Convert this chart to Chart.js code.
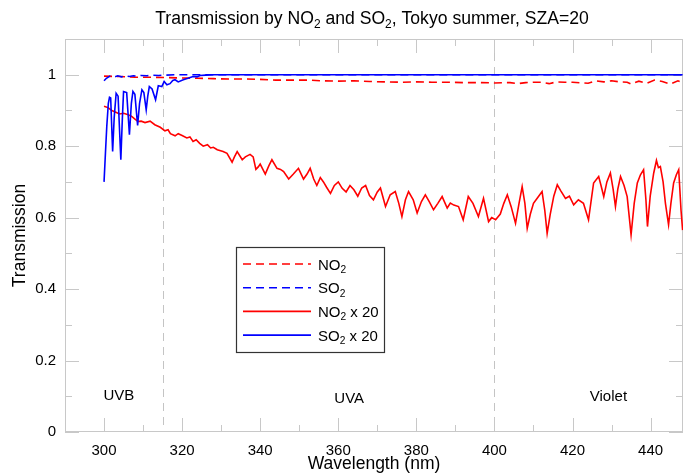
<!DOCTYPE html>
<html>
<head>
<meta charset="utf-8">
<title>Transmission by NO2 and SO2</title>
<script src="https://cdn.jsdelivr.net/npm/chart.js@4.4.0/dist/chart.umd.min.js"></script>
<style>
  html, body { margin: 0; padding: 0; background: #fff; }
  #wrap { width: 684px; height: 475px; }
</style>
</head>
<body>
<div id="wrap"><canvas id="chart" width="684" height="475"></canvas></div>
<script>
// Transmission vs wavelength

// NO2 x 20 (solid red)
const no2x20Wl = [300.0, 301.0, 302.0, 303.0, 304.0, 305.0, 306.0, 307.0, 308.0, 308.7, 309.5, 310.5, 311.8, 313.0, 314.4, 315.6, 316.4, 317.0, 318.2, 319.0,
  320.0, 321.2, 322.0, 322.8, 323.6, 324.5, 325.4, 326.5, 327.3, 328.0, 329.0, 330.5, 331.5, 332.8, 333.4, 334.1, 335.4, 336.2, 337.4, 338.2,
  338.9, 339.5, 340.0, 341.3, 342.2, 343.0, 344.3, 345.2, 346.0, 347.3, 348.5, 349.8, 351.1, 352.0, 352.8, 353.7, 354.5, 355.4, 356.2, 357.0,
  358.0, 359.0, 360.0, 361.0, 362.0, 363.0, 364.0, 365.0, 366.0, 367.0, 368.0, 369.0, 370.0, 370.8, 372.1, 373.3, 374.6, 375.5, 376.3, 377.2,
  378.0, 379.2, 380.2, 381.3, 382.3, 383.3, 384.4, 385.5, 386.6, 387.9, 388.7, 389.6, 390.8, 392.0, 393.3, 394.5, 395.9, 397.2, 398.5, 399.3,
  400.3, 401.5, 402.4, 403.3, 404.3, 405.4, 406.3, 407.1, 407.8, 408.4, 409.2, 410.0, 411.0, 412.2, 412.9, 413.5, 414.3, 415.2, 416.1, 417.0,
  418.2, 419.2, 420.3, 421.5, 422.8, 424.1, 424.8, 425.4, 426.7, 427.3, 428.0, 428.8, 429.7, 430.4, 431.0, 431.6, 432.3, 433.2, 434.0, 435.0,
  435.8, 436.6, 437.4, 438.2, 438.8, 439.2, 439.9, 440.8, 441.5, 442.0, 442.5, 443.2, 443.8, 444.6, 445.2, 445.9, 446.6, 447.2, 447.8, 448.2];
const no2x20 = [0.912, 0.908, 0.900, 0.895, 0.890, 0.892, 0.889, 0.884, 0.875, 0.869, 0.870, 0.866, 0.870, 0.860, 0.853, 0.843, 0.846, 0.835, 0.829, 0.835,
  0.830, 0.823, 0.826, 0.813, 0.818, 0.808, 0.800, 0.804, 0.795, 0.797, 0.790, 0.785, 0.780, 0.755, 0.770, 0.785, 0.762, 0.770, 0.777, 0.770,
  0.735, 0.742, 0.750, 0.722, 0.745, 0.762, 0.738, 0.735, 0.729, 0.708, 0.722, 0.738, 0.708, 0.722, 0.738, 0.708, 0.690, 0.712, 0.700, 0.685,
  0.668, 0.690, 0.700, 0.682, 0.672, 0.690, 0.678, 0.660, 0.683, 0.690, 0.662, 0.650, 0.672, 0.683, 0.631, 0.664, 0.673, 0.640, 0.603, 0.650,
  0.673, 0.650, 0.613, 0.645, 0.664, 0.645, 0.622, 0.640, 0.659, 0.627, 0.641, 0.635, 0.631, 0.594, 0.659, 0.640, 0.603, 0.654, 0.589, 0.600,
  0.594, 0.610, 0.640, 0.664, 0.630, 0.584, 0.640, 0.687, 0.640, 0.570, 0.610, 0.640, 0.655, 0.673, 0.620, 0.556, 0.610, 0.660, 0.692, 0.675,
  0.654, 0.660, 0.636, 0.650, 0.640, 0.594, 0.650, 0.697, 0.715, 0.690, 0.659, 0.700, 0.725, 0.680, 0.631, 0.680, 0.715, 0.690, 0.659, 0.552,
  0.640, 0.697, 0.720, 0.734, 0.650, 0.575, 0.660, 0.725, 0.760, 0.740, 0.743, 0.700, 0.640, 0.580, 0.640, 0.697, 0.720, 0.734, 0.620, 0.565];

// SO2 x 20 (solid blue)
const so2x20Wl = [300.0, 300.4, 300.7, 301.1, 301.4, 301.7, 302.2, 302.6, 303.1, 303.6, 304.3, 304.7, 305.0, 305.8, 306.5, 307.0, 307.4, 307.9, 308.6, 309.1,
  309.7, 310.2, 310.8, 311.2, 311.6, 312.3, 313.2, 313.9, 314.8, 315.4, 316.1, 316.9, 317.6, 318.2, 319.0, 320.3, 321.5, 322.8, 323.8, 324.6,
  326.0, 328.0, 340.0, 360.0, 380.0, 400.0, 420.0, 440.0, 448.2];
const so2x20 = [0.700, 0.790, 0.855, 0.920, 0.937, 0.935, 0.785, 0.880, 0.948, 0.940, 0.762, 0.880, 0.953, 0.950, 0.832, 0.920, 0.953, 0.945, 0.858, 0.920,
  0.958, 0.950, 0.902, 0.940, 0.967, 0.960, 0.930, 0.969, 0.967, 0.981, 0.972, 0.975, 0.984, 0.986, 0.980, 0.986, 0.990, 0.995, 0.994, 0.998,
  0.999, 1.000, 1.000, 1.000, 1.000, 1.000, 1.000, 1.000, 1.000];

// NO2 (dashed red)
const no2Wl = [300, 304, 308, 312, 316, 320, 324, 328, 332, 336, 340, 344, 348, 352, 356, 360, 364, 368, 372, 376,
  380, 384, 388, 392, 396, 400, 404, 406, 408, 410, 412, 414, 416, 418, 420, 424, 426, 428, 430, 432,
  434, 435, 437, 439, 441, 443, 445, 447, 448.2];
const no2 = [0.996, 0.995, 0.993, 0.993, 0.992, 0.991, 0.990, 0.989, 0.988, 0.988, 0.987, 0.985, 0.985, 0.985, 0.983, 0.982, 0.983, 0.981, 0.980, 0.979,
  0.980, 0.979, 0.979, 0.978, 0.978, 0.977, 0.978, 0.975, 0.978, 0.979, 0.979, 0.975, 0.980, 0.979, 0.979, 0.976, 0.983, 0.980, 0.983, 0.980,
  0.979, 0.974, 0.982, 0.976, 0.985, 0.981, 0.974, 0.983, 0.978];

// SO2 (dashed blue)
const so2Wl = [300.0, 300.6, 301.5, 302.5, 303.5, 304.5, 305.5, 306.5, 307.5, 308.5, 309.5, 311.0, 312.0, 314.0, 316.0, 318.0, 340.0, 380.0, 420.0, 448.2];
const so2 = [0.983, 0.990, 0.996, 0.993, 0.997, 0.994, 0.997, 0.995, 0.997, 0.996, 0.998, 0.997, 0.999, 0.998, 0.999, 1.000, 1.000, 1.000, 1.000, 1.000];

// axes and annotations
const xTickLabels = [300, 320, 340, 360, 380, 400, 420, 440];
const yTickLabels = [0, 0.2, 0.4, 0.6, 0.8, 1];
const bandEdges = [315, 400];
const bandNames = ['UVB', 'UVA', 'Violet'];
const bandLabelX = [303.8, 362.8, 429.2];
const bandLabelY = [0.101, 0.092, 0.098];

const FONT = '"Liberation Sans", Arial, Helvetica, sans-serif';
const RED = '#ff0000';
const BLUE = '#0000ff';

const toPoints = (xs, ys) => xs.map((x, i) => ({ x: x, y: ys[i] }));

// text with subscript parts: [text, isSub]
function drawRich(ctx, parts, x, y, size, align) {
  const subSize = size * 0.68;
  let total = 0;
  parts.forEach(p => {
    ctx.font = (p[1] ? subSize : size) + 'px ' + FONT;
    total += ctx.measureText(p[0]).width;
  });
  let cx = align === 'center' ? x - total / 2 : x;
  ctx.textAlign = 'left';
  ctx.textBaseline = 'alphabetic';
  parts.forEach(p => {
    ctx.font = (p[1] ? subSize : size) + 'px ' + FONT;
    ctx.fillText(p[0], cx, p[1] ? y + size * 0.22 : y);
    cx += ctx.measureText(p[0]).width;
  });
}

const legendItems = [
  { parts: [['NO'], ['2', 1]], color: RED, dash: [8, 5] },
  { parts: [['SO'], ['2', 1]], color: BLUE, dash: [8, 5] },
  { parts: [['NO'], ['2', 1], [' x 20']], color: RED, dash: [] },
  { parts: [['SO'], ['2', 1], [' x 20']], color: BLUE, dash: [] },
];

const framePlugin = {
  id: 'frame',
  beforeDatasetsDraw(chart) {
    const { ctx, chartArea: a, scales: { x, y } } = chart;
    ctx.save();
    // band boundaries
    ctx.strokeStyle = '#c4c4c4';
    ctx.lineWidth = 1;
    ctx.setLineDash([8, 6]);
    bandEdges.forEach(w => {
      const px = Math.round(x.getPixelForValue(w)) + 0.5;
      ctx.beginPath();
      ctx.moveTo(px, a.top);
      ctx.lineTo(px, a.bottom);
      ctx.stroke();
    });
    ctx.setLineDash([]);
    // box
    ctx.strokeStyle = '#c8c8c8';
    ctx.strokeRect(a.left + 0.5, a.top + 0.5, a.right - a.left - 1, a.bottom - a.top - 1);
    // inward ticks
    x.ticks.forEach(t => {
      const px = Math.round(x.getPixelForValue(t.value)) + 0.5;
      if (px <= a.left + 1 || px >= a.right - 1) return;
      const len = t.value % 20 === 0 ? 14 : 7;
      ctx.beginPath();
      ctx.moveTo(px, a.bottom);
      ctx.lineTo(px, a.bottom - len);
      ctx.moveTo(px, a.top);
      ctx.lineTo(px, a.top + len);
      ctx.stroke();
    });
    y.ticks.forEach(t => {
      const py = Math.round(y.getPixelForValue(t.value)) + 0.5;
      if (py <= a.top + 1) return;
      const len = Math.round(t.value * 10) % 2 === 0 ? 14 : 7;
      ctx.beginPath();
      ctx.moveTo(a.left, py);
      ctx.lineTo(a.left + len, py);
      ctx.moveTo(a.right, py);
      ctx.lineTo(a.right - len, py);
      ctx.stroke();
    });
    ctx.restore();
  },
  afterDatasetsDraw(chart) {
    const { ctx, scales: { x, y } } = chart;
    ctx.save();
    ctx.fillStyle = '#000';
    // band names
    ctx.font = '15px ' + FONT;
    ctx.textAlign = 'center';
    ctx.textBaseline = 'middle';
    bandNames.forEach((n, i) => {
      ctx.fillText(n, x.getPixelForValue(bandLabelX[i]), y.getPixelForValue(bandLabelY[i]));
    });
    // legend
    const lx = 236.5, ly = 247.5, lw = 148, lh = 105;
    ctx.fillStyle = '#fff';
    ctx.fillRect(lx, ly, lw, lh);
    ctx.strokeStyle = '#333';
    ctx.lineWidth = 1.2;
    ctx.strokeRect(lx, ly, lw, lh);
    legendItems.forEach((it, i) => {
      const cy = 264 + i * 23.7;
      ctx.strokeStyle = it.color;
      ctx.lineWidth = 1.6;
      ctx.setLineDash(it.dash);
      ctx.beginPath();
      ctx.moveTo(243, cy);
      ctx.lineTo(311, cy);
      ctx.stroke();
      ctx.setLineDash([]);
      ctx.fillStyle = '#000';
      drawRich(ctx, it.parts, 318, cy + 5.5, 15, 'left');
    });
    // title
    ctx.fillStyle = '#000';
    drawRich(ctx, [['Transmission by NO'], ['2', 1], [' and SO'], ['2', 1], [', Tokyo summer, SZA=20']], 372, 24, 17.6, 'center');
    ctx.restore();
  }
};

const ctx = document.getElementById('chart').getContext('2d');
new Chart(ctx, {
  type: 'line',
  data: {
    datasets: [
      { label: 'NO2', data: toPoints(no2Wl, no2), borderColor: RED, borderDash: [8, 5], order: 4 },
      { label: 'SO2', data: toPoints(so2Wl, so2), borderColor: BLUE, borderDash: [8, 5], order: 3 },
      { label: 'NO2 x 20', data: toPoints(no2x20Wl, no2x20), borderColor: RED, order: 2 },
      { label: 'SO2 x 20', data: toPoints(so2x20Wl, so2x20), borderColor: BLUE, order: 1 },
    ],
  },
  options: {
    responsive: false,
    animation: false,
    devicePixelRatio: 1,
    layout: { padding: { top: 39, right: 1, left: 0, bottom: 0 } },
    elements: {
      point: { radius: 0 },
      line: { tension: 0, borderWidth: 1.6, fill: false },
    },
    plugins: {
      legend: { display: false },
      title: { display: false },
      tooltip: { enabled: false },
    },
    scales: {
      x: {
        type: 'linear',
        min: 290,
        max: 448.3,
        grid: { display: false, drawTicks: false },
        border: { display: false },
        ticks: {
          stepSize: 10,
          includeBounds: false,
          autoSkip: false,
          maxRotation: 0,
          padding: 10,
          color: '#000',
          font: { family: FONT, size: 15 },
          callback: v => (xTickLabels.includes(v) ? String(v) : ''),
        },
        title: {
          display: true,
          text: 'Wavelength (nm)',
          color: '#000',
          font: { family: FONT, size: 17.5 },
          padding: { top: 0, bottom: 0 },
        },
        afterFit: s => { s.height = 43; },
      },
      y: {
        min: 0,
        max: 1.1,
        grid: { display: false, drawTicks: false },
        border: { display: false },
        ticks: {
          stepSize: 0.1,
          includeBounds: false,
          autoSkip: false,
          padding: 9,
          color: '#000',
          font: { family: FONT, size: 15 },
          callback: v => {
            const r = Math.round(v * 10) / 10;
            return yTickLabels.includes(r) ? String(r) : '';
          },
        },
        title: {
          display: true,
          text: 'Transmission',
          color: '#000',
          font: { family: FONT, size: 17.5 },
          padding: { top: 10, bottom: 0 },
        },
        afterFit: s => { s.width = 65; },
      },
    },
  },
  plugins: [framePlugin],
});
</script>
</body>
</html>
